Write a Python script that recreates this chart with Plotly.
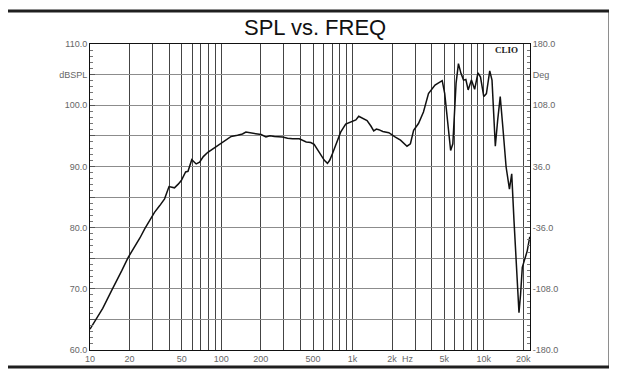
import plotly.graph_objects as go

# ---- data ----
FREQ = [10, 11, 12.5, 14.6, 16, 17.5, 19.5, 22, 24, 26.1, 28.5, 31, 34, 37, 40, 42, 44, 47,
        49.6, 53.5, 55.8, 59.6, 62, 64.4, 68.4, 73, 79, 88, 97, 108, 119, 133, 145, 154,
        174, 201, 219, 235, 254, 293, 320, 350, 393, 420, 444, 480, 510, 558, 610, 644,
        670, 704, 760, 812, 887, 1000, 1060, 1115, 1200, 1290, 1380, 1450, 1520, 1585,
        1700, 1890, 2120, 2320, 2600, 2760, 2920, 3180, 3470, 3790, 4250, 4640, 4820,
        5040, 5340, 5590, 5810, 6150, 6410, 6700, 7010, 7300, 7600, 8050, 8520, 9030,
        9440, 10000, 10470, 11100, 11550, 12240, 12750, 13340, 13970, 14790, 15680,
        16320, 16990, 18100, 18540, 19070, 19650, 21430, 22400]
SPL = [63.4, 64.8, 66.8, 69.7, 71.3, 73.0, 75.1, 76.9, 78.3, 79.8, 81.3, 82.5, 83.6, 84.7,
       86.7, 86.6, 86.5, 87.1, 87.7, 89.1, 89.2, 91.1, 90.7, 90.4, 90.7, 91.6, 92.3, 93.0,
       93.7, 94.3, 94.9, 95.1, 95.3, 95.6, 95.4, 95.2, 94.8, 95.0, 94.9, 94.8, 94.6, 94.5,
       94.5, 94.2, 94.0, 93.9, 93.6, 92.3, 91.0, 90.5, 91.0, 92.1, 94.0, 95.6, 96.9, 97.3,
       97.6, 98.2, 97.9, 97.5, 96.6, 95.8, 96.1, 96.0, 95.7, 95.5, 94.8, 94.3, 93.3, 93.7,
       95.9, 97.0, 98.9, 101.9, 103.3, 103.8, 104.0, 101.9, 97.0, 92.6, 93.7, 103.6, 106.8,
       105.2, 104.1, 104.2, 102.5, 104.1, 102.6, 105.3, 104.6, 101.4, 101.9, 105.6, 104.1,
       93.3, 97.5, 101.4, 96.4, 89.9, 86.3, 88.8, 81.1, 69.7, 66.1, 69.1, 73.5, 76.2, 78.5]

X_GRID = [10, 20, 30, 40, 50, 60, 70, 80, 90, 100, 200, 300, 400, 500, 600, 700, 800, 900,
          1000, 2000, 3000, 4000, 5000, 6000, 7000, 8000, 9000, 10000, 20000]
X_LABELS = {10: "10", 20: "20", 50: "50", 100: "100", 200: "200", 500: "500",
            1000: "1k", 2000: "2k", 5000: "5k", 10000: "10k", 20000: "20k"}
Y_TICKS = [60, 65, 70, 75, 80, 85, 90, 95, 100, 105, 110]
Y_LABELS = {60: "60.0", 70: "70.0", 80: "80.0", 90: "90.0", 100: "100.0",
            105: "dBSPL", 110: "110.0"}
DEG_TICKS = [-180, -108, -36, 36, 108, 144, 180]
DEG_LABELS = ["-180.0", "-108.0", "-36.0", "36.0", "108.0", "Deg", "180.0"]
TITLE = "SPL vs. FREQ"

OFF = 8  # page body margin of the html document
W, H = 617, 374
pw, ph = 440, 306
L, T = 90 - OFF, 44 - OFF
R, B = W - L - pw, H - T - ph

tick_font = dict(family="Arial, Liberation Sans, sans-serif", size=9, color="#666666")

fig = go.Figure()
fig.add_trace(go.Scatter(x=FREQ, y=SPL, mode="lines",
                         line=dict(color="#111111", width=1.5),
                         showlegend=False, hoverinfo="skip"))
fig.add_trace(go.Scatter(x=FREQ[:1], y=[0], yaxis="y2", mode="markers",
                         marker=dict(opacity=0), showlegend=False, hoverinfo="skip"))

fig.update_layout(
    width=W, height=H,
    margin=dict(l=L, r=R, t=T, b=B),
    paper_bgcolor="white", plot_bgcolor="white",
    xaxis=dict(type="log", range=[1, 4.352],
               tickmode="array", tickvals=X_GRID,
               ticktext=[X_LABELS.get(v, "") for v in X_GRID],
               showgrid=True, gridcolor="#444444", gridwidth=1,
               showline=True, linecolor="#111111", linewidth=1, mirror=True,
               ticks="", tickfont=tick_font, zeroline=False),
    yaxis=dict(range=[60, 110], tickmode="array", tickvals=Y_TICKS,
               ticktext=[Y_LABELS.get(v, "") for v in Y_TICKS],
               showgrid=True, gridcolor="#8c8c8c", gridwidth=1.2,
               showline=True, linecolor="#111111", linewidth=1, mirror=True,
               ticks="inside", ticklen=5, tickcolor="#555555",
               minor=dict(dtick=1, tick0=60, ticks="inside", ticklen=3,
                          tickcolor="#777777", showgrid=False),
               tickfont=tick_font, zeroline=False),
    yaxis2=dict(range=[-180, 180], overlaying="y", side="right",
                tickmode="array", tickvals=DEG_TICKS, ticktext=DEG_LABELS,
                showgrid=False, showline=True, linecolor="#111111", linewidth=1,
                ticks="inside", ticklen=5, tickcolor="#555555",
                minor=dict(dtick=7.2, tick0=-180, ticks="inside", ticklen=3,
                           tickcolor="#777777", showgrid=False),
                tickfont=tick_font, zeroline=False),
)

def px(xp):
    return (xp - OFF - L) / pw

def py(yp):
    return (T + ph - (yp - OFF)) / ph

fig.add_shape(type="rect", xref="paper", yref="paper",
              x0=px(6), x1=px(610), y0=py(367), y1=py(11),
              line=dict(color="#1f1f1f", width=3), fillcolor="rgba(0,0,0,0)",
              layer="above")

fig.add_annotation(text=TITLE, xref="paper", yref="paper", x=px(315), y=py(28),
                   showarrow=False, xanchor="center", yanchor="middle",
                   font=dict(family="Arial, Liberation Sans, sans-serif", size=22,
                             color="#111111"))
fig.add_annotation(text="<b>CLIO</b>", xref="paper", yref="paper", x=px(506), y=py(50),
                   showarrow=False, xanchor="center", yanchor="middle",
                   font=dict(family="Liberation Serif, serif", size=9, color="#222222"))
fig.add_annotation(text="Hz", xref="paper", yref="paper", x=px(408), y=py(359),
                   showarrow=False, xanchor="center", yanchor="middle",
                   font=tick_font)

fig.write_html("out.html")
